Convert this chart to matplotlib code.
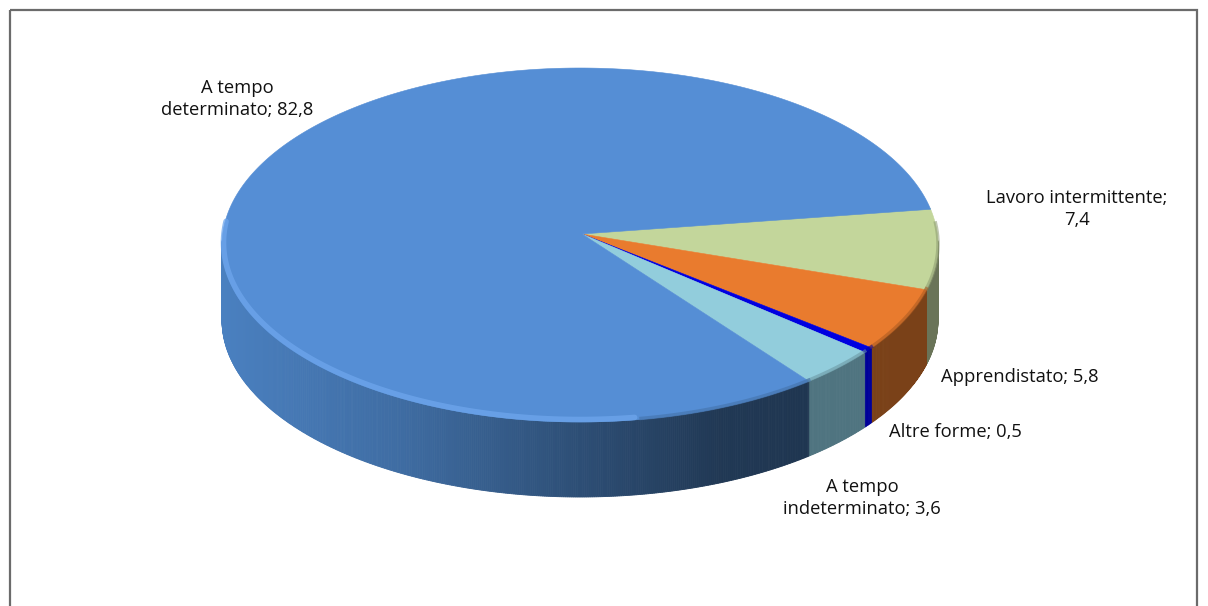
import numpy as np
import matplotlib
matplotlib.use("Agg")
import matplotlib.pyplot as plt
from matplotlib.patches import Polygon, Rectangle

labels = ["A tempo\ndeterminato; 82,8", "Lavoro intermittente;\n7,4", "Apprendistato; 5,8",
          "Altre forme; 0,5", "A tempo\nindeterminato; 3,6"]
# clockwise from the top-right edge of the blue slice
names = ["Lavoro intermittente", "Apprendistato", "Altre forme", "A tempo indeterminato", "A tempo determinato"]
values = [7.4, 5.8, 0.5, 3.6, 82.8]
top_colors = ["#c3d69b", "#e97b2e", "#0000e0", "#92cddc", "#558ed5"]
side_colors = ["#6a7458", "#7a4118", "#000099", "#4f7480", "#4a80c0"]

W, H = 1208, 606
cx, cy, a, b = 580, 245, 358, 177
apex = (582, 234)
depth = 75
start = 12.0

plt.rcParams['font.family'] = ['Open Sans', 'DejaVu Sans']
fig = plt.figure(figsize=(W / 100, H / 100), dpi=100)
ax = fig.add_axes([0, 0, 1, 1])
ax.set_xlim(0, W)
ax.set_ylim(H, 0)
ax.axis("off")


def rim(t):
    t = np.radians(t)
    return cx + a * np.cos(t), cy - b * np.sin(t)


def shade(col, k):
    return tuple(c * k for c in matplotlib.colors.to_rgb(col))


# sides first, thin strips so the shading can follow x
edges = start - np.cumsum([0] + values) * 3.6
for i, col in enumerate(side_colors):
    t0, t1 = edges[i], edges[i + 1]
    n = max(2, int(abs(t1 - t0) * 3))
    ts = np.linspace(t0, t1, n)
    for j in range(n - 1):
        s0, s1 = np.sin(np.radians(ts[j])), np.sin(np.radians(ts[j + 1]))
        if s0 > 0.02 and s1 > 0.02:
            continue
        x0, y0 = rim(ts[j])
        x1, y1 = rim(ts[j + 1])
        k = 1.0
        if i == 4:
            # blue side goes dark towards the right
            u = (0.5 * (x0 + x1) - 222) / (806 - 222)
            k = np.interp(u, [0, 0.3, 0.6, 0.85, 1], [1.0, 0.85, 0.62, 0.44, 0.42])
        ax.add_patch(Polygon([(x0, y0), (x1, y1), (x1, y1 + depth), (x0, y0 + depth)],
                             closed=True, fc=shade(col, k), ec=shade(col, k), lw=0.6))

# top faces
for i, col in enumerate(top_colors):
    ts = np.linspace(edges[i], edges[i + 1], 400)
    x, y = rim(ts)
    pts = [apex] + list(zip(x, y))
    ax.add_patch(Polygon(pts, closed=True, fc=col, ec=col, lw=0.4))

# bevel along the front rim: a highlight on the blue part and a soft dark edge on the rest
for i, col in enumerate(top_colors):
    ts = np.linspace(edges[i], edges[i + 1], 300)
    keep = np.sin(np.radians(ts)) < 0.12
    if not keep.any():
        continue
    x, y = rim(ts[keep])
    if i == 4:
        xf = x < 640
        ax.plot(x[xf] + 1.5 * (cx - x[xf]) / a, y[xf] - 2.5, color="#6ea6ec", lw=4, solid_capstyle="round", alpha=0.75)
        ax.plot(x[~xf], y[~xf] - 1, color=shade(col, 0.8), lw=2.5, alpha=0.6)
    else:
        ax.plot(x, y - 1, color=shade(col, 0.72), lw=2.5, alpha=0.55)

# chart border
ax.add_patch(Rectangle((9.5, 9.5), 1187, 620, fc="none", ec="#6b6b6b", lw=1.6))

fs = 13.2
ax.text(237, 99, labels[0], ha="center", va="center", fontsize=fs, color="#111111", linespacing=1.25)
ax.text(1077, 209, labels[1], ha="center", va="center", fontsize=fs, color="#111111", linespacing=1.25)
ax.text(1020, 377, labels[2], ha="center", va="center", fontsize=fs, color="#111111")
ax.text(955, 432, labels[3], ha="center", va="center", fontsize=fs, color="#111111")
ax.text(862, 498, labels[4], ha="center", va="center", fontsize=fs, color="#111111", linespacing=1.25)

fig.savefig("out.png", dpi=100)
